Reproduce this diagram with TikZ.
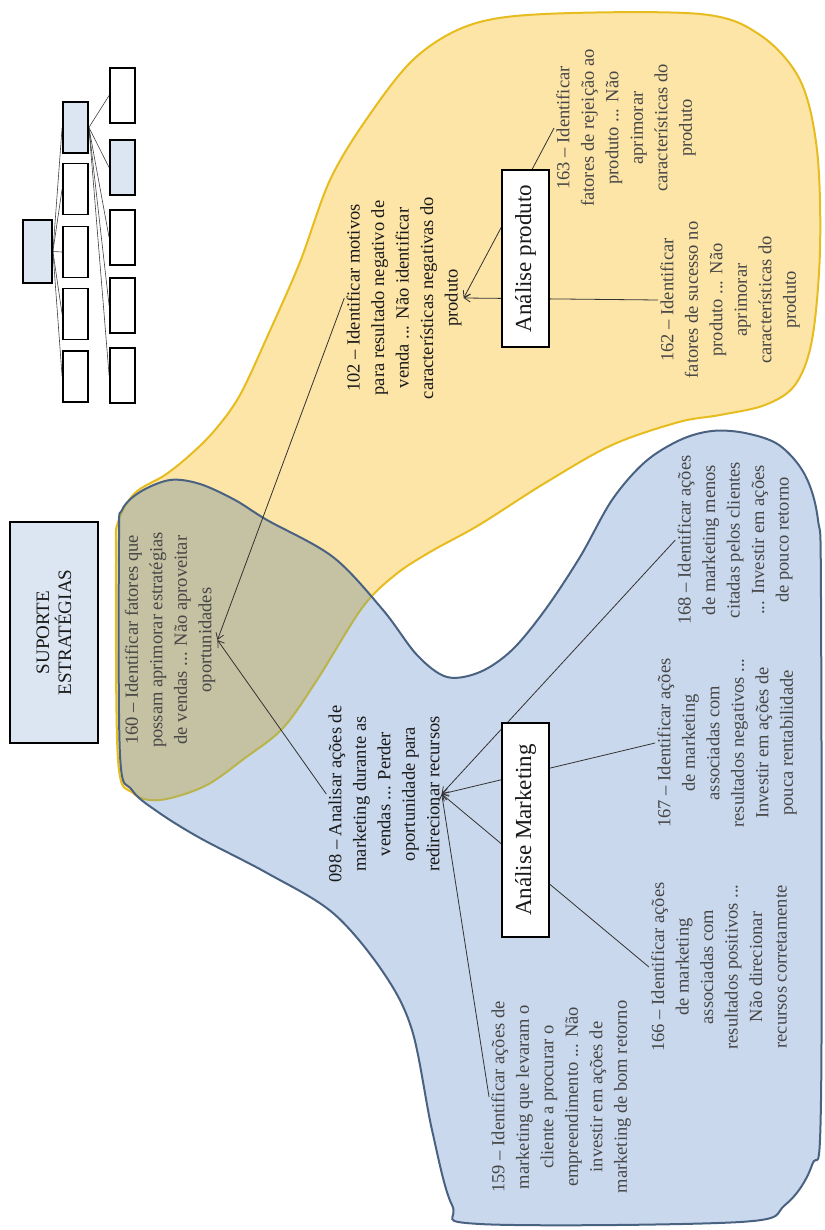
\documentclass[tikz,border=0pt]{standalone}
\usepackage{fontspec}
\setmainfont{Liberation Serif}
\usetikzlibrary{arrows.meta}

\pgfdeclarelayer{blobs}
\pgfdeclarelayer{links}
\pgfsetlayers{blobs,links,main}

\definecolor{ylwfill}{RGB}{253,229,168}
\definecolor{ylwline}{RGB}{230,188,30}
\definecolor{bluefill}{RGB}{201,216,236}
\definecolor{blueline}{RGB}{74,98,130}
\definecolor{mixfill}{RGB}{197,193,163}
\definecolor{mixline}{RGB}{185,180,75}
\definecolor{boxblue}{RGB}{220,230,242}
\definecolor{txtgray}{RGB}{70,70,70}
\definecolor{txtdark}{RGB}{25,25,25}

% product area outline
\newcommand\yellowblob[1]{\path[#1] plot[smooth cycle, tension=0.55] coordinates {
  (116,560) (118,522) (135,493) (165,475) (190,455) (215,430) (240,395)
  (268,335) (300,262) (330,180) (368,117) (415,58) (470,25) (545,14)
  (700,14) (760,35) (800,80) (817,150) (820,250) (812,340) (795,385)
  (765,405) (720,415) (679,422) (612,445) (545,483) (479,525) (430,552)
  (395,575) (362,608) (317,680) (283,728) (245,758) (205,786) (160,800)
  (133,793) (118,760)};}

% marketing area outline
\newcommand\blueblob[1]{\path[#1] plot[smooth cycle, tension=0.55] coordinates {
  (119,540) (122,510) (140,492) (170,480) (200,484) (235,500) (267,520)
  (333,557) (383,610) (417,655) (447,677) (480,672) (512,650) (545,610)
  (580,557) (612,500) (645,462) (680,440) (712,431) (745,433) (779,445)
  (805,475) (818,520) (821,600) (821,1100) (812,1165) (785,1205)
  (740,1222) (480,1224) (452,1205) (432,1130) (412,1030) (383,972)
  (333,913) (267,873) (200,838) (158,812) (132,790) (120,755)};}

\begin{document}
\begin{tikzpicture}[x=1pt,y=-1pt,
  desc/.style={rotate=90, align=center, text=txtgray, inner sep=2pt,
    font=\fontsize{18.5}{24.5}\selectfont},
  keydesc/.style={desc, text=txtdark},
  panel/.style={rotate=90, draw=black, line width=1.6pt, fill=white,
    inner sep=0pt, font=\fontsize{23}{27}\selectfont, text=txtdark},
  mini/.style={draw=black, line width=1.8pt, fill=white, inner sep=0pt,
    minimum width=25pt},
  link/.style={draw=black!80, line width=0.8pt},
  arr/.style={link, -{Straight Barb[length=6pt,width=8pt]}},
  minilink/.style={draw=black!75, line width=0.6pt},
]
\useasboundingbox (0,0) rectangle (824,1230);

% ---- shaded areas ----
\begin{pgfonlayer}{blobs}
  \yellowblob{fill=ylwfill}
  \yellowblob{draw=ylwline, line width=2pt}
  \blueblob{fill=bluefill}
  \begin{scope}
    \blueblob{clip}
    \yellowblob{fill=mixfill}
    \yellowblob{draw=mixline, line width=2pt}
  \end{scope}
  \blueblob{draw=blueline, line width=2pt}
\end{pgfonlayer}

% ---- overview diagram ----
\node[mini, fill=boxblue, minimum width=29pt, minimum height=63pt] (m0) at (37.5,251.5) {};
\node[mini, fill=boxblue, minimum height=51pt] (a1) at (75.5,127.5) {};
\node[mini, minimum height=51pt] (a2) at (75.5,189) {};
\node[mini, minimum height=51pt] (a3) at (75.5,252) {};
\node[mini, minimum height=51pt] (a4) at (75.5,314) {};
\node[mini, minimum height=51pt] (a5) at (75.5,376.5) {};
\node[mini, minimum height=55pt] (b1) at (122.5,95.5) {};
\node[mini, fill=boxblue, minimum height=55pt] (b2) at (122.5,167.5) {};
\node[mini, minimum height=55pt] (b3) at (122.5,237.5) {};
\node[mini, minimum height=55pt] (b4) at (122.5,305.5) {};
\node[mini, minimum height=55pt] (b5) at (122.5,375.5) {};

% ---- main boxes ----
\node[panel, fill=boxblue, line width=2pt, minimum width=221pt, minimum height=88pt,
  font=\fontsize{19}{22}\selectfont, align=center] (sup) at (54,632.5) {SUPORTE\\ESTRATÉGIAS};
\node[panel, minimum width=177pt, minimum height=47pt] (prod) at (525.5,258.5) {Análise produto};
\node[panel, minimum width=214pt, minimum height=47pt] (mkt) at (525.5,830) {Análise Marketing};

% ---- item texts ----
\node[desc] (n160) at (170,640) {160 – Identificar fatores que\\possam aprimorar estratégias\\de vendas ... Não aproveitar\\oportunidades};
\node[keydesc] (n102) at (404,298) {102 – Identificar motivos\\para resultado negativo de\\venda ... Não identificar\\características negativas do\\produto};
\node[keydesc] (n098) at (384,794) {098 – Analisar ações de\\marketing durante as\\vendas ... Perder\\oportunidade para\\redirecionar recursos};
\node[desc] (n163) at (626,128) {163 – Identificar\\fatores de rejeição ao\\produto ... Não\\aprimorar\\características do\\produto};
\node[desc] (n162) at (730,300) {162 – Identificar\\fatores de sucesso no\\produto ... Não\\aprimorar\\características do\\produto};
\node[desc] (n159) at (561,1097) {159 – Identificar ações de\\marketing que levaram o\\cliente a procurar o\\empreendimento ... Não\\investir em ações de\\marketing de bom retorno};
\node[desc] (n166) at (719,967) {166 – Identificar ações\\de marketing\\associadas com\\resultados positivos ...\\Não direcionar\\recursos corretamente};
\node[desc] (n167) at (727,743) {167 – Identificar ações\\de marketing\\associadas com\\resultados negativos ...\\Investir em ações de\\pouca rentabilidade};
\node[desc] (n168) at (735,540) {168 – Identificar ações\\de marketing menos\\citadas pelos clientes\\... Investir em ações\\de pouco retorno};

% ---- connectors ----
\begin{pgfonlayer}{links}
  \foreach \t in {a1,a2,a3,a4,a5} \draw[minilink] (m0.east) -- (\t.west);
  \foreach \t in {b1,b2,b3,b4,b5} \draw[minilink] (a1.east) -- (\t.west);

  \draw[arr] (n102.north) -- (n160.south);
  \draw[arr] (n098.north) -- (n160.south);
  \draw[arr] (n163.north) -- (n102.south);
  \draw[arr] (n162.north) -- (n102.south);
  \draw[arr] (n159.north) -- (n098.south);
  \draw[arr] (n166.north) -- (n098.south);
  \draw[arr] (n167.north) -- (n098.south);
  \draw[arr] (n168.north) -- (n098.south);
\end{pgfonlayer}
\end{tikzpicture}
\end{document}
